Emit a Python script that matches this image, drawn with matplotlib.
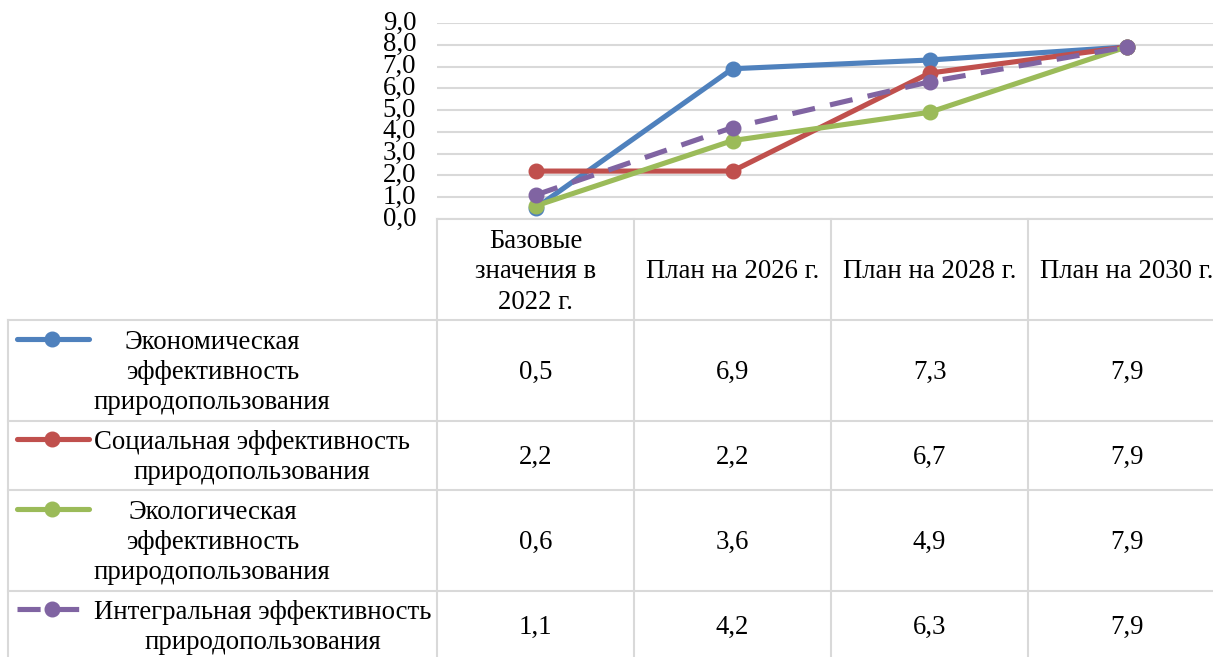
import matplotlib
matplotlib.use('Agg')
import matplotlib.pyplot as plt
from matplotlib.lines import Line2D
from matplotlib.transforms import blended_transform_factory

plt.rcParams['font.family'] = ['Liberation Serif', 'DejaVu Serif']

# data
periods = ['Базовые\nзначения в\n2022 г.', 'План на 2026 г.', 'План на 2028 г.', 'План на 2030 г.']
econ = [0.5, 6.9, 7.3, 7.9]
social = [2.2, 2.2, 6.7, 7.9]
ecolog = [0.6, 3.6, 4.9, 7.9]
integral = [1.1, 4.2, 6.3, 7.9]
series_names = ['Экономическая\nэффективность\nприродопользования',
                'Социальная эффективность\nприродопользования',
                'Экологическая\nэффективность\nприродопользования',
                'Интегральная эффективность\nприродопользования']
yticks = list(range(10))

colors = ['#4F81BD', '#C0504D', '#9BBB59', '#8064A2']
dashed = [False, False, False, True]
series = [econ, social, ecolog, integral]

W, H = 1213, 657
fig = plt.figure(figsize=(W / 100, H / 100), dpi=100)


def fx(p):
    return p / W


def fy(p):
    return 1 - p / H


FS = 19.3
GRID = '#D9D9D9'
ax = fig.add_axes([fx(437), fy(219), (1225 - 437) / W, (219 - 23) / H])
x = list(range(len(periods)))
for vals, c, d in zip(series, colors, dashed):
    line, = ax.plot(x, vals, color=c, lw=3.7, marker='o', ms=10.5, solid_capstyle='round')
    if d:
        line.set_dashes((4.5, 3))
ax.set_xlim(-0.5, 3.5)
ax.set_ylim(0, 9)
ax.set_yticks(yticks)
ax.set_yticklabels([f'{v},0' for v in yticks])
ax.set_xticks([])
ax.yaxis.grid(True, color=GRID, lw=1.5)
ax.set_axisbelow(True)
for s in ax.spines.values():
    s.set_visible(False)
ax.tick_params(axis='y', length=0, pad=15, labelsize=FS)
for t in ax.get_yticklabels():
    t.set_va('center')

# data table below the plot
blend = blended_transform_factory(ax.transData, fig.transFigure)
row_edges = [320, 421, 490, 591, 660]


def hline(x0, x1, y, tr=fig.transFigure):
    fig.add_artist(Line2D([x0, x1], [y, y], transform=tr, color=GRID, lw=1.5))


# header row
hline(-0.5, 3.5, fy(219), blend)
for b in [-0.5, 0.5, 1.5, 2.5, 3.5]:
    fig.add_artist(Line2D([b, b], [fy(219), fy(660)], transform=blend, color=GRID, lw=1.5))
fig.add_artist(Line2D([fx(8), fx(8)], [fy(320), fy(660)], transform=fig.transFigure, color=GRID, lw=1.5))
for y in row_edges:
    hline(fx(8), 1.0, fy(y))

for i, p in enumerate(periods):
    fig.text(i, fy(272), p, transform=blend, ha='center', va='center',
             multialignment='center', fontsize=FS, linespacing=1.27)

for r, (name, vals, c, d) in enumerate(zip(series_names, series, colors, dashed)):
    yc = (row_edges[r] + row_edges[r + 1]) / 2 + 2
    nl = name.count('\n') + 1
    fig.text(fx(94), fy(yc), name, ha='left', va='center', multialignment='center',
             fontsize=FS, linespacing=1.27)
    for i, v in enumerate(vals):
        fig.text(i, fy(yc), f'{v:.1f}'.replace('.', ','), transform=blend,
                 ha='center', va='center', fontsize=FS)
    ky = fy(yc - (nl - 1) / 2 * 30 - 4)
    key = Line2D([fx(17), fx(89)], [ky, ky], transform=fig.transFigure, color=c, lw=3.7,
                 solid_capstyle='round')
    if d:
        key.set_dashes((4.5, 3))
    fig.add_artist(key)
    fig.add_artist(Line2D([fx(52)], [ky], transform=fig.transFigure, color=c,
                          marker='o', ms=10.5, ls='none'))

fig.savefig('out.png', dpi=100)
